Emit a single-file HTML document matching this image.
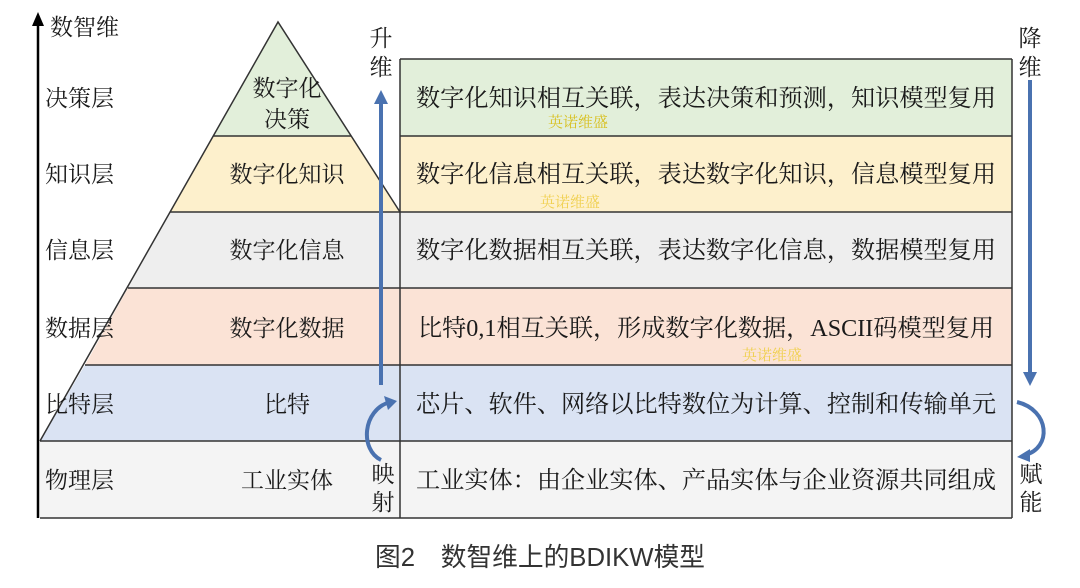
<!DOCTYPE html>
<html><head><meta charset="utf-8"><style>
body{margin:0;background:#fff;width:1080px;height:583px;overflow:hidden;font-family:"Liberation Serif","Noto Serif CJK SC",serif;}
svg text{font-family:"Liberation Serif","Noto Serif CJK SC",serif;fill:#1a1a1a;}
</style></head><body>
<svg width="1080" height="583" viewBox="0 0 1080 583">
<rect x="400" y="59" width="612" height="77" fill="#e2efda"/>
<rect x="400" y="136" width="612" height="76" fill="#fdf0cc"/>
<polygon points="170,212 1012,212 1012,288 128,288" fill="#eeeeee"/>
<polygon points="128,288 1012,288 1012,365 85,365" fill="#fbe3d6"/>
<polygon points="85,365 1012,365 1012,441 40,441" fill="#dae3f3"/>
<rect x="40" y="441" width="972" height="77" fill="#f4f4f4"/>
<polygon points="278,22 351,136 213,136" fill="#e2efda"/>
<polygon points="213,136 351,136 400,212 170,212" fill="#fdf0cc"/>
<g stroke="#333" stroke-width="1.5" fill="none">
<polyline points="40,441 278,22 400,212"/>
<line x1="400" y1="59" x2="1012" y2="59"/>
<line x1="213" y1="136" x2="351" y2="136"/>
<line x1="400" y1="136" x2="1012" y2="136"/>
<line x1="170" y1="212" x2="1012" y2="212"/>
<line x1="128" y1="288" x2="1012" y2="288"/>
<line x1="85" y1="365" x2="1012" y2="365"/>
<line x1="40" y1="441" x2="1012" y2="441"/>
<line x1="40" y1="518" x2="1012" y2="518"/>
<line x1="400" y1="59" x2="400" y2="518"/>
<line x1="1012" y1="59" x2="1012" y2="518"/>
</g>
<line x1="38" y1="22" x2="38" y2="518" stroke="#000" stroke-width="2.5"/>
<path d="M32,26 L38,12 L44,26 Z" fill="#000"/>
<line x1="381" y1="385" x2="381" y2="100" stroke="#4a72b0" stroke-width="4"/>
<path d="M374,104 L381,90 L388,104 Z" fill="#4a72b0"/>
<line x1="1030" y1="80" x2="1030" y2="375" stroke="#4a72b0" stroke-width="4"/>
<path d="M1023,372 L1030,386 L1037,372 Z" fill="#4a72b0"/>
<path d="M381,460 C360,450 362,410 390,402" stroke="#4a72b0" stroke-width="4" fill="none"/>
<path d="M384,396 L397,401 L388,410 Z" fill="#4a72b0"/>
<path d="M1017,402 C1050,410 1052,448 1025,455" stroke="#4a72b0" stroke-width="4" fill="none"/>
<path d="M1030,449 L1017,457 L1030,462 Z" fill="#4a72b0"/>
<g font-size="23">
<text x="50" y="35">数智维</text>
<text x="45" y="106">决策层</text>
<text x="45" y="182">知识层</text>
<text x="45" y="258">信息层</text>
<text x="45" y="336">数据层</text>
<text x="45" y="412">比特层</text>
<text x="45" y="488">物理层</text>
<g text-anchor="middle">
<text x="287" y="96">数字化</text>
<text x="287" y="127">决策</text>
<text x="287" y="182">数字化知识</text>
<text x="287" y="258">数字化信息</text>
<text x="287" y="336">数字化数据</text>
<text x="287" y="412">比特</text>
<text x="287" y="488">工业实体</text>
<text x="381" y="46">升</text><text x="381" y="75">维</text>
<text x="1030" y="46">降</text><text x="1030" y="75">维</text>
<text x="383" y="482">映</text><text x="383" y="510">射</text>
<text x="1031" y="482">赋</text><text x="1031" y="510">能</text>
</g>
</g>
<g font-size="24" text-anchor="middle">
<text x="706" y="106" textLength="580" lengthAdjust="spacingAndGlyphs">数字化知识相互关联，表达决策和预测，知识模型复用</text>
<text x="706" y="182" textLength="580" lengthAdjust="spacingAndGlyphs">数字化信息相互关联，表达数字化知识，信息模型复用</text>
<text x="706" y="258" textLength="580" lengthAdjust="spacingAndGlyphs">数字化数据相互关联，表达数字化信息，数据模型复用</text>
<text x="706" y="336" textLength="576" lengthAdjust="spacingAndGlyphs">比特0,1相互关联，形成数字化数据，ASCII码模型复用</text>
<text x="706" y="412" textLength="580" lengthAdjust="spacingAndGlyphs">芯片、软件、网络以比特数位为计算、控制和传输单元</text>
<text x="706" y="488" textLength="580" lengthAdjust="spacingAndGlyphs">工业实体：由企业实体、产品实体与企业资源共同组成</text>
</g>
<g font-size="15" text-anchor="middle">
<text x="578" y="127" style="fill:#d8c020">英诺维盛</text>
<text x="570" y="207" style="fill:#f0d050">英诺维盛</text>
<text x="772" y="360" style="fill:#f0d050">英诺维盛</text>
</g>
<text x="375" y="566" font-size="26" textLength="330" lengthAdjust="spacingAndGlyphs" style="font-family:'Liberation Sans','Noto Sans CJK SC',sans-serif;fill:#333">图2　数智维上的BDIKW模型</text>
</svg>
</body></html>
